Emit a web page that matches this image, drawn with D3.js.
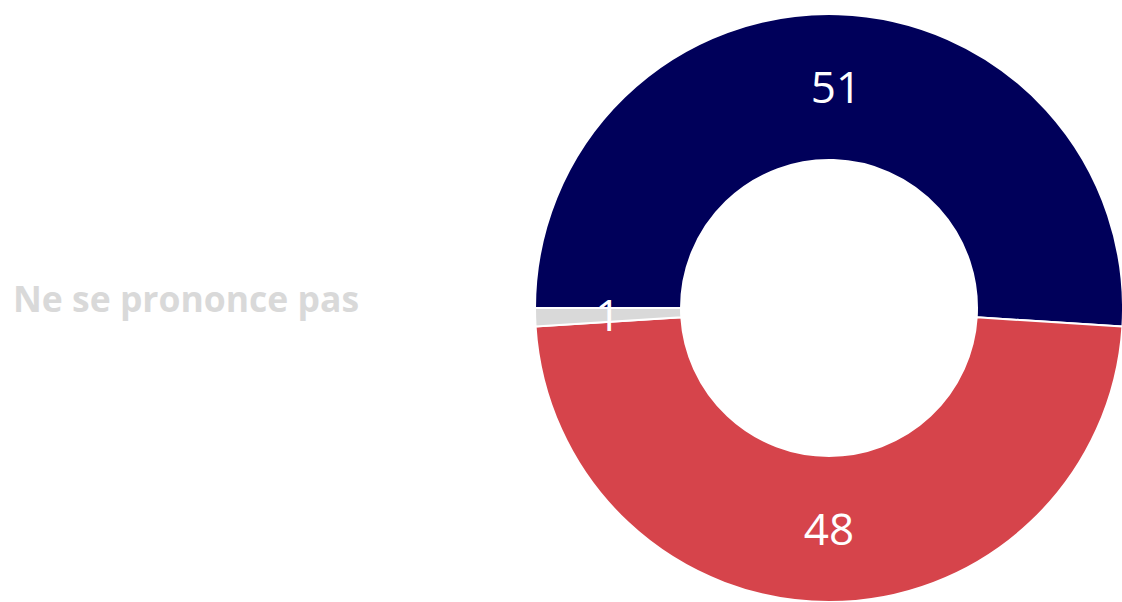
<!DOCTYPE html>
<html>
<head>
<meta charset="utf-8">
<script src="https://cdn.jsdelivr.net/npm/d3@7"></script>
<style>
  html, body { margin: 0; padding: 0; background: #fff; }
  svg { display: block; }
</style>
</head>
<body>
<div id="donut_chart"></div>
<script>
// donut: vote share
var categories = ["Oui", "Non", "Ne se prononce pas"],
	values = [51, 48, 1],
	colors = ["#00005a", "#d6444b", "#d9d9d9"];

var width = 1122,
	height = 602,
	cx = 829,
	cy = 308,
	outerR = 294,
	innerR = 148;

var svg = d3.select("#donut_chart")
	.append("svg")
	.attr("width", width)
	.attr("height", height);

var g = svg.append("g")
	.attr("transform", "translate(" + cx + "," + cy + ")");

var pie = d3.pie()
	.value(function (d) { return d; })
	.sort(null)
	.startAngle(-Math.PI / 2)
	.endAngle(Math.PI * 1.5);

var arc = d3.arc()
	.innerRadius(innerR)
	.outerRadius(outerR);

var slices = g.selectAll(".arc")
	.data(pie(values))
	.enter()
	.append("g")
	.attr("class", "arc");

slices.append("path")
	.attr("d", arc)
	.attr("fill", function (d, i) { return colors[i]; })
	.attr("stroke", "#fff")
	.attr("stroke-width", 2);

slices.append("text")
	.attr("transform", function (d) { return "translate(" + arc.centroid(d) + ")"; })
	.attr("text-anchor", "middle")
	.attr("dy", "0.36em")
	.style("font-family", "'Open Sans', sans-serif")
	.style("font-size", "44px")
	.style("fill", "#fff")
	.text(function (d) { return d.data; });

// label for the small slice, sits off to the left
svg.append("text")
	.attr("x", 13)
	.attr("y", 312)
	.style("font-family", "'Open Sans', sans-serif")
	.style("font-weight", "bold")
	.style("font-size", "35.5px")
	.style("fill", "#d9d9d9")
	.text(categories[2]);
</script>
</body>
</html>
